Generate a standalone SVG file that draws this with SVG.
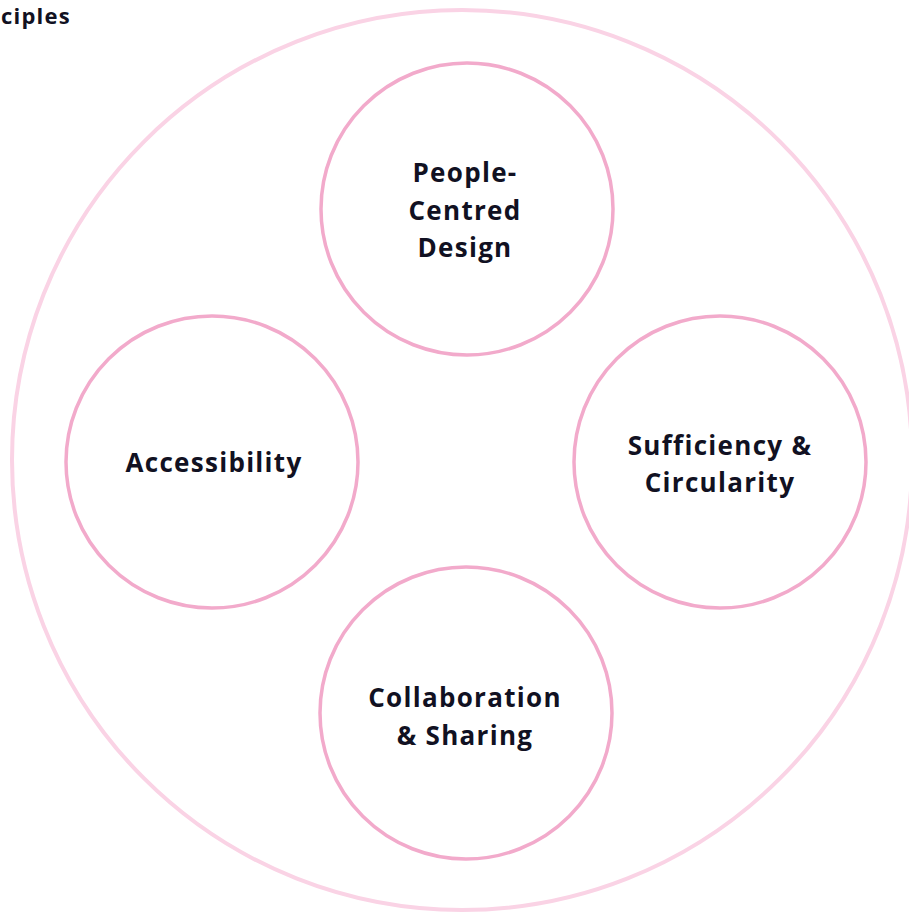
<svg xmlns="http://www.w3.org/2000/svg" width="909" height="916" viewBox="0 0 909 916">
<style>
.outer{fill:none;stroke:#fad3e5;stroke-width:4}
.node{fill:#fff;stroke:#f2aacb;stroke-width:3.5}
.lbl{font-family:"Open Sans","DejaVu Sans",sans-serif;font-weight:700;font-size:26px;letter-spacing:1.3px;fill:#111122;text-anchor:middle}
.head{font-family:"Open Sans","DejaVu Sans",sans-serif;font-weight:700;font-size:22px;letter-spacing:1.2px;fill:#111122}
</style>
<rect width="909" height="916" fill="#fff"/>
<text class="head" x="1" y="24">ciples</text>
<circle class="outer" cx="462" cy="460" r="450"/>
<g id="people-centred">
<circle class="node" cx="467" cy="209" r="146"/>
<text class="lbl" x="465" y="182">People-</text>
<text class="lbl" x="465" y="220">Centred</text>
<text class="lbl" x="465" y="257">Design</text>
</g>
<g id="accessibility">
<circle class="node" cx="212" cy="462" r="146"/>
<text class="lbl" x="214" y="472">Accessibility</text>
</g>
<g id="sufficiency">
<circle class="node" cx="720" cy="462" r="146"/>
<text class="lbl" x="720" y="455">Sufficiency &amp;</text>
<text class="lbl" x="720" y="492">Circularity</text>
</g>
<g id="collaboration">
<circle class="node" cx="466" cy="713" r="146"/>
<text class="lbl" x="465" y="707">Collaboration</text>
<text class="lbl" x="465" y="745">&amp; Sharing</text>
</g>
<g id="connectors"/>
</svg>
